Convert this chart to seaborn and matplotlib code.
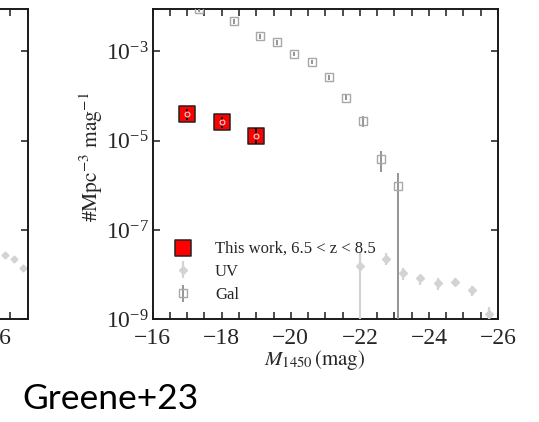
import matplotlib
matplotlib.use("Agg")
import matplotlib.pyplot as plt
import matplotlib.ticker as mticker
import numpy as np
import pandas as pd
import seaborn as sns

# ---------------- data ----------------
this_M = [-17.0, -18.0, -19.0]
this_phi = [3.93e-5, 2.56e-5, 1.26e-5]
this_err_lo = [1.05e-5, 0.68e-5, 0.40e-5]
this_err_hi = [1.30e-5, 0.86e-5, 0.62e-5]

uv_M = [-22.0, -22.75, -23.25, -23.75, -24.25, -24.75, -25.25, -25.75]
uv_phi = [1.6e-8, 2.27e-8, 1.07e-8, 8.2e-9, 6.4e-9, 6.7e-9, 4.5e-9, 1.31e-9]
uv_err_lo = [1.6e-8, 6.3e-9, 3.2e-9, 2.2e-9, 1.8e-9, 1.25e-9, 1.2e-9, 0.6e-9]
uv_err_hi = [1.6e-8, 7.5e-9, 3.3e-9, 1.8e-9, 2.0e-9, 1.7e-9, 1.0e-9, 0.6e-9]

gal_M = [-17.34, -18.35, -19.1, -19.6, -20.1, -20.6, -21.1, -21.6, -22.1, -22.6, -23.1]
gal_phi = [8.7e-3, 4.71e-3, 2.2e-3, 1.62e-3, 8.8e-4, 5.85e-4, 2.61e-4, 9.2e-5, 2.74e-5, 3.85e-6, 9.7e-7]
gal_err_lo = [1.2e-3, 6e-4, 3e-4, 2e-4, 1e-4, 6e-5, 3e-5, 1.2e-5, 7e-6, 1.9e-6, 9.7e-7]
gal_err_hi = [1.2e-3, 6e-4, 3e-4, 2e-4, 1e-4, 6e-5, 3e-5, 1.2e-5, 8e-6, 2.0e-6, 0.93e-6]

# neighbouring (cropped) panel: only a few points visible
left_M = [-26.33, -26.60, -26.86]
left_phi = [2.79e-8, 2.27e-8, 1.38e-8]

x_major = [-16, -18, -20, -22, -24, -26]
y_major = [1e-9, 1e-7, 1e-5, 1e-3]

legend_labels = ["This work, 6.5 < z < 8.5", "UV", "Gal"]
# ----------------------------------------------------------------

sns.set_style("ticks")
plt.rcParams["font.family"] = ["Liberation Serif", "DejaVu Serif"]
plt.rcParams["mathtext.fontset"] = "stix"

fig = plt.figure(figsize=(5.39, 4.22), dpi=100)

SP_COL = "#1a1a1a"
UV_COL = "#d3d3d3"
GAL_EDGE = "#a8a8a8"
GAL_BAR = "#8c8c8c"


def style_axes(ax, xlim):
    ax.set_yscale("log")
    ax.set_xlim(*xlim)
    ax.set_ylim(1e-9, 8.9e-3)
    ax.xaxis.set_major_locator(mticker.FixedLocator(x_major))
    ax.xaxis.set_minor_locator(mticker.MultipleLocator(0.5))
    ax.yaxis.set_major_locator(mticker.FixedLocator(y_major))
    ax.yaxis.set_minor_locator(mticker.NullLocator())
    ax.yaxis.set_major_formatter(mticker.LogFormatterMathtext())
    ax.tick_params(which="both", direction="in", top=True, right=True,
                   length=5, width=1.1, color=SP_COL)
    ax.tick_params(axis="x", which="major", labelsize=17, pad=6)
    ax.tick_params(axis="y", which="major", labelsize=17, pad=3)
    for s in ax.spines.values():
        s.set_linewidth(1.4)
        s.set_color(SP_COL)


# ---- cropped neighbour panel on the far left ----
px = 34.5 / 539.0  # one magnitude in figure fraction
ax0 = fig.add_axes([0.0514 - 11 * px, 0.2434, 11 * px, 0.7353])
style_axes(ax0, (-16, -27))
ax0.set_yticklabels([])
ax0.errorbar(left_M, left_phi, yerr=[np.array(left_phi) * 0.1, np.array(left_phi) * 0.1],
             fmt="D", ms=3.5, color=UV_COL, mec=UV_COL, elinewidth=1.2, capsize=0)

# ---- main panel ----
ax = fig.add_axes([0.2833, 0.2434, 0.6406, 0.7353])

gal_c = ax.errorbar(gal_M, gal_phi, yerr=[gal_err_lo, gal_err_hi], fmt="s", ms=5.5,
                    mfc="none", mec=GAL_EDGE, mew=1.0, ecolor=GAL_BAR,
                    elinewidth=1.3, capsize=0, zorder=3, label="Gal")
uv_c = ax.errorbar(uv_M, uv_phi, yerr=[uv_err_lo, uv_err_hi], fmt="D", ms=4,
                   color=UV_COL, mec=UV_COL, ecolor=UV_COL,
                   elinewidth=1.6, capsize=0, zorder=3, label="UV")

df_this = pd.DataFrame({"M": this_M, "phi": this_phi})
sns.scatterplot(data=df_this, x="M", y="phi", marker="s", s=135, color="#ff0000",
                edgecolor="#222222", linewidth=1.1, ax=ax, zorder=4,
                label=legend_labels[0])
ax.errorbar(this_M, this_phi, yerr=[this_err_lo, this_err_hi], fmt="o", ms=3.5,
            mfc="#ff0000", mec="#dddddd", mew=0.8, ecolor="black",
            elinewidth=1.2, capsize=0, zorder=5)

style_axes(ax, (-16, -26))
ax.set_xlabel(r"$M_{1450}\,\mathrm{(mag)}$", fontsize=15)
ax.set_ylabel(r"$\#\mathrm{Mpc}^{-3}\ \mathrm{mag}^{-1}$", fontsize=15.5)
ax.xaxis.set_label_coords(0.47, -0.093)
ax.yaxis.set_label_coords(-0.137, 0.523)

handles, labels = ax.get_legend_handles_labels()
order = {lab: h for h, lab in zip(handles, labels)}
leg = ax.legend([order[l] for l in legend_labels], legend_labels,
                loc="upper left", bbox_to_anchor=(0.055, 0.255),
                frameon=False, fontsize=12, handlelength=1.4,
                handletextpad=1.2, labelspacing=0.45, borderpad=0,
                borderaxespad=0)

fig.text(0.042, 0.0315, "Greene+23", family="Lato", fontsize=25.5,
         ha="left", va="baseline", color="black")

fig.savefig("out.png", dpi=100)
